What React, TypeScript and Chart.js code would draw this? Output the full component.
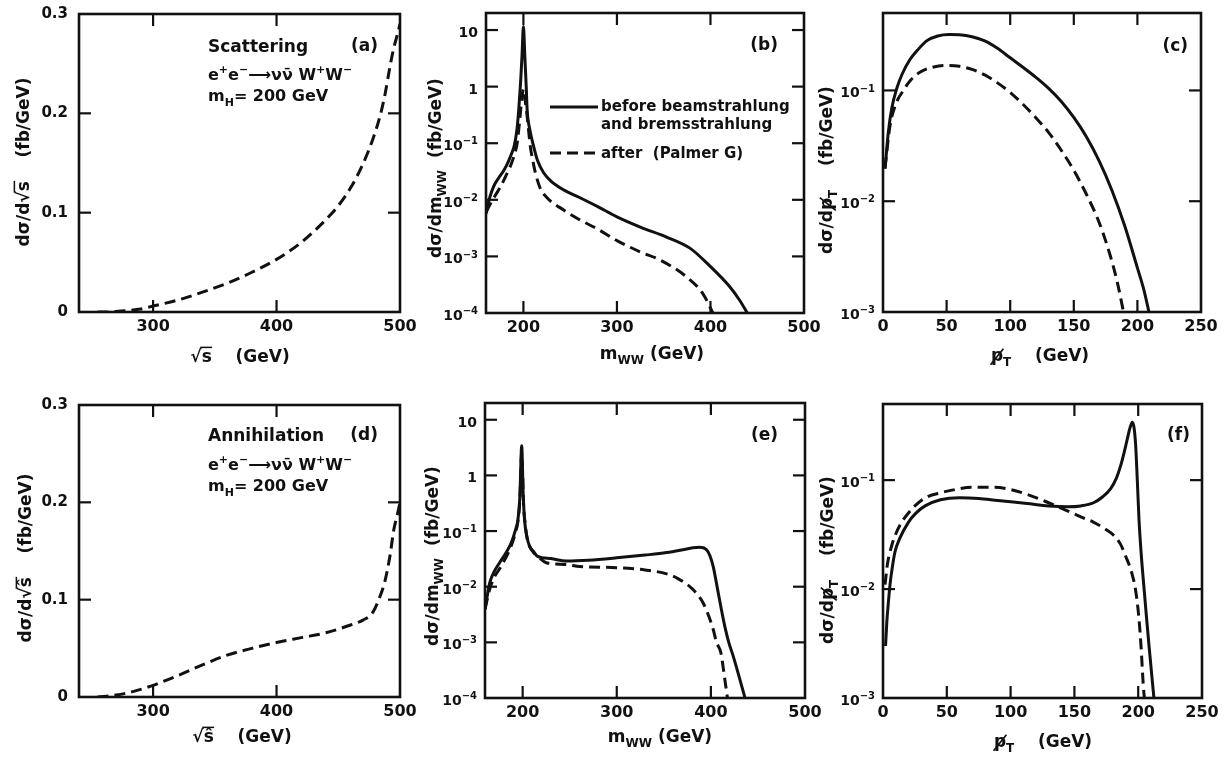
import React, { useEffect, useRef } from 'react';
import { Chart, registerables } from 'chart.js';

Chart.register(...registerables);

// ---------------- DATA ----------------
// (a) Scattering, dσ/d√s (fb/GeV)
const aSqrtS = [255, 262, 270, 280, 290, 300, 320, 340, 360, 380, 400, 420, 440, 450, 460, 470, 478, 484, 488, 492, 495, 498, 500];
const aDsig = [0, 0, 0.0005, 0.0015, 0.003, 0.006, 0.012, 0.02, 0.029, 0.04, 0.053, 0.07, 0.093, 0.107, 0.125, 0.149, 0.174, 0.198, 0.22, 0.248, 0.266, 0.28, 0.29];

// (d) Annihilation, dσ/d√ŝ (fb/GeV)
const dSqrtS = [255, 270, 285, 300, 320, 340, 360, 380, 400, 420, 440, 460, 470, 478, 484, 488, 492, 495, 498, 500];
const dDsig = [0, 0.002, 0.006, 0.012, 0.022, 0.033, 0.043, 0.05, 0.056, 0.061, 0.066, 0.074, 0.079, 0.087, 0.104, 0.12, 0.146, 0.172, 0.188, 0.2];

// (b) Scattering, dσ/dm_WW
const bMwwBefore = [160, 164, 168, 174, 179, 184, 188, 190, 193, 195, 197, 198.5, 200, 201.5, 203, 204, 207, 211, 215, 221.6, 230, 243, 260, 280, 300, 325, 353, 378, 400, 420, 431, 441];
const bDsigBefore = [0.0057, 0.011, 0.017, 0.025, 0.033, 0.048, 0.07, 0.087, 0.17, 0.39, 1.2, 3.5, 11.5, 3.5, 1.0, 0.39, 0.17, 0.087, 0.05, 0.03, 0.021, 0.015, 0.011, 0.0075, 0.005, 0.0033, 0.0022, 0.0014, 0.00066, 0.0003, 0.00017, 0.00009];
const bMwwAfter = [160, 165, 170, 175.5, 181, 186, 190, 193.3, 196, 198, 200, 202, 204, 207.4, 210, 212.8, 218, 225, 243, 260.6, 280, 300, 325, 345.7, 374, 391.8, 404];
const bDsigAfter = [0.006, 0.0087, 0.012, 0.017, 0.026, 0.039, 0.06, 0.1, 0.25, 0.55, 0.9, 0.55, 0.3, 0.087, 0.05, 0.03, 0.016, 0.011, 0.0066, 0.0044, 0.003, 0.0019, 0.0012, 0.00087, 0.00044, 0.00022, 0.00009];

// (e) Annihilation, dσ/dm_WW
const eMwwBefore = [160, 165, 170, 175.5, 182, 188, 192, 195, 197, 199, 200.5, 202, 204.5, 207.4, 212, 216, 230, 246.5, 270, 300, 330, 353, 370, 381, 388, 395, 399, 402.5, 405, 407.8, 411, 414.9, 419, 423.8, 431, 437];
const eDsigBefore = [0.0039, 0.0117, 0.019, 0.027, 0.04, 0.062, 0.1, 0.16, 0.4, 3.4, 0.5, 0.16, 0.08, 0.053, 0.042, 0.035, 0.032, 0.029, 0.03, 0.033, 0.037, 0.041, 0.046, 0.05, 0.051, 0.047, 0.036, 0.023, 0.014, 0.0078, 0.004, 0.0019, 0.001, 0.00056, 0.00021, 0.00009];
const eMwwAfter = [160, 165, 170, 175.5, 182, 188, 192, 195, 197, 199, 201, 203, 205, 210, 218, 225, 246.5, 260.6, 300, 330, 353, 365, 377.7, 385, 391.8, 397, 402.5, 406, 410.6, 414.9, 418];
const eDsigAfter = [0.004, 0.009, 0.015, 0.021, 0.033, 0.055, 0.09, 0.15, 0.35, 2.5, 0.3, 0.12, 0.07, 0.045, 0.033, 0.027, 0.025, 0.023, 0.022, 0.02, 0.017, 0.014, 0.01, 0.0075, 0.0051, 0.0032, 0.0017, 0.001, 0.00065, 0.00021, 0.00009];

// (c) Scattering, dσ/dp̸T
const cPtBefore = [1.6, 4.2, 7, 10.8, 15, 21.2, 27, 34.3, 43, 52, 60, 70, 80, 90, 100, 110, 120, 130, 140, 150, 160, 170, 180, 190, 200, 205, 209.5];
const cDsigBefore = [0.0196, 0.042, 0.07, 0.104, 0.14, 0.19, 0.23, 0.28, 0.31, 0.32, 0.318, 0.305, 0.28, 0.24, 0.197, 0.162, 0.132, 0.105, 0.08, 0.057, 0.038, 0.023, 0.0125, 0.006, 0.0025, 0.0016, 0.00095];
const cPtAfter = [1.6, 5.5, 10, 16, 22, 30, 40, 50, 60, 70, 80, 90, 100, 110, 120, 130, 140, 150, 160, 170, 178.4, 184, 189.5];
const cDsigAfter = [0.02, 0.048, 0.075, 0.1, 0.125, 0.148, 0.163, 0.168, 0.165, 0.155, 0.138, 0.117, 0.096, 0.075, 0.057, 0.042, 0.029, 0.019, 0.0115, 0.0064, 0.0033, 0.0019, 0.00095];

// (f) Annihilation, dσ/dp̸T
const fPtBefore = [2, 3, 4.2, 5.5, 7, 9.4, 13, 19.9, 26, 33, 45, 60, 75, 90, 112.9, 130, 145, 155, 165, 172, 178.3, 183, 186.2, 189, 191.5, 193.5, 195.4, 196.8, 198, 199.3, 200.6, 202.5, 204.5, 206.5, 208.5, 212.5];
const fDsigBefore = [0.003, 0.005, 0.0075, 0.011, 0.015, 0.022, 0.029, 0.041, 0.05, 0.058, 0.066, 0.069, 0.068, 0.065, 0.061, 0.058, 0.057, 0.058, 0.062, 0.07, 0.083, 0.105, 0.135, 0.18, 0.24, 0.3, 0.34, 0.3, 0.21, 0.1, 0.044, 0.02, 0.0104, 0.0055, 0.003, 0.00095];
const fPtAfter = [1.6, 3.5, 6.8, 10, 14.6, 20, 25, 34.3, 46, 56.6, 70, 86.7, 100, 112.9, 127, 141.7, 155, 165.2, 175, 181, 186, 190.2, 195, 198, 200.5, 202.2, 204, 205];
const fDsigAfter = [0.011, 0.017, 0.025, 0.032, 0.041, 0.05, 0.058, 0.07, 0.077, 0.082, 0.086, 0.086, 0.082, 0.074, 0.064, 0.054, 0.046, 0.041, 0.035, 0.031, 0.026, 0.02, 0.014, 0.0097, 0.0055, 0.003, 0.0013, 0.00095];

// Axis ticks
const sqrtSTicks = [300, 400, 500];
const sqrtSTickLabels = ['300', '400', '500'];
const linYTicks = [0, 0.1, 0.2, 0.3];
const linYTickLabels = ['0', '0.1', '0.2', '0.3'];
const mwwTicks = [200, 300, 400, 500];
const mwwTickLabels = ['200', '300', '400', '500'];
const mwwYTicks = [1e-4, 1e-3, 1e-2, 1e-1, 1, 10];
const mwwYTickLabels = ['10⁻⁴', '10⁻³', '10⁻²', '10⁻¹', '1', '10'];
const ptTicks = [0, 50, 100, 150, 200, 250];
const ptTickLabels = ['0', '50', '100', '150', '200', '250'];
const ptYTicks = [1e-3, 1e-2, 1e-1];
const ptYTickLabels = ['10⁻³', '10⁻²', '10⁻¹'];

// ---------------- DRAWING HELPERS ----------------
const DV = "'DejaVu Sans', 'Liberation Sans', sans-serif";
const INK = '#111';

type Seg = { t: string; sub?: boolean; sup?: boolean; over?: boolean; slash?: boolean };

function segFont(size: number, s: Seg) {
  const sz = s.sub || s.sup ? Math.round(size * 0.7) : size;
  return `bold ${sz}px ${DV}`;
}

function measureRich(ctx: CanvasRenderingContext2D, segs: Seg[], size: number) {
  let w = 0;
  for (const s of segs) {
    ctx.font = segFont(size, s);
    w += ctx.measureText(s.t).width;
  }
  return w;
}

function drawRich(ctx: CanvasRenderingContext2D, segs: Seg[], x: number, y: number, size: number, align: 'left' | 'center' | 'right' = 'left', angle = 0) {
  ctx.save();
  ctx.translate(x, y);
  if (angle) ctx.rotate(angle);
  const w = measureRich(ctx, segs, size);
  let cx = align === 'center' ? -w / 2 : align === 'right' ? -w : 0;
  ctx.fillStyle = INK;
  ctx.strokeStyle = INK;
  ctx.textAlign = 'left';
  ctx.textBaseline = 'alphabetic';
  for (const s of segs) {
    ctx.font = segFont(size, s);
    const dy = s.sub ? size * 0.3 : s.sup ? -size * 0.42 : 0;
    ctx.fillText(s.t, cx, dy);
    const sw = ctx.measureText(s.t).width;
    if (s.over) {
      ctx.lineWidth = size * 0.09;
      ctx.beginPath();
      ctx.moveTo(cx - size * 0.08, -size * 0.86);
      ctx.lineTo(cx + sw + size * 0.02, -size * 0.86);
      ctx.stroke();
    }
    if (s.slash) {
      ctx.lineWidth = size * 0.1;
      ctx.beginPath();
      ctx.moveTo(cx - size * 0.02, dy + size * 0.22);
      ctx.lineTo(cx + sw + size * 0.02, dy - size * 0.72);
      ctx.stroke();
    }
    cx += sw;
  }
  ctx.restore();
}

const SUP_MAP: Record<string, string> = { '⁻': '−', '⁰': '0', '¹': '1', '²': '2', '³': '3', '⁴': '4', '⁵': '5', '⁶': '6', '⁷': '7', '⁸': '8', '⁹': '9' };

function labelSegs(label: string): Seg[] {
  let base = '';
  let sup = '';
  for (const ch of label) {
    if (SUP_MAP[ch] !== undefined) sup += SUP_MAP[ch];
    else base += ch;
  }
  const segs: Seg[] = [{ t: base }];
  if (sup) segs.push({ t: sup, sup: true });
  return segs;
}

type Series = { x: number[]; y: number[]; dashed: boolean };
type TextItem = { segs: Seg[]; x: number; y: number; size: number; align?: 'left' | 'center' | 'right' };
type Panel = {
  key: string;
  box: { l: number; r: number; t: number; b: number };
  canvas: { x: number; y: number; w: number; h: number };
  xMin: number; xMax: number; xTicks: number[]; xLabels: string[];
  yLog: boolean; yMin: number; yMax: number; yTicks: number[]; yLabels: string[];
  series: Series[];
  xTitle: Seg[]; xTitleX: number; xTitleY: number;
  yTitle: Seg[]; yTitleX: number; yTitleY: number;
  texts: TextItem[];
  legend?: boolean;
};

const TICK_LEN = 12;

function decorPlugin(p: Panel) {
  return {
    id: 'decor_' + p.key,
    afterDraw(chart: any) {
      const ctx: CanvasRenderingContext2D = chart.ctx;
      const a = chart.chartArea;
      const xs = chart.scales.x;
      const ys = chart.scales.y;
      const ox = p.canvas.x;
      const oy = p.canvas.y;
      ctx.save();
      ctx.strokeStyle = INK;
      ctx.lineWidth = 2.6;
      ctx.setLineDash([]);
      ctx.strokeRect(a.left, a.top, a.right - a.left, a.bottom - a.top);
      ctx.lineWidth = 2.2;
      const seg = (x1: number, y1: number, x2: number, y2: number) => {
        ctx.beginPath();
        ctx.moveTo(x1, y1);
        ctx.lineTo(x2, y2);
        ctx.stroke();
      };
      for (const v of p.xTicks) {
        if (v <= p.xMin || v >= p.xMax) continue;
        const px = xs.getPixelForValue(v);
        seg(px, a.bottom, px, a.bottom - TICK_LEN);
        seg(px, a.top, px, a.top + TICK_LEN);
      }
      for (const v of p.yTicks) {
        if (v <= p.yMin || v >= p.yMax) continue;
        const py = ys.getPixelForValue(v);
        seg(a.left, py, a.left + TICK_LEN, py);
        seg(a.right, py, a.right - TICK_LEN, py);
      }
      // log-axis tick labels with real superscripts
      if (p.yLog) {
        p.yTicks.forEach((v, i) => {
          const py = ys.getPixelForValue(v);
          drawRich(ctx, labelSegs(p.yLabels[i]), a.left - 8, py + 7, 14, 'right');
        });
      }
      // axis titles
      drawRich(ctx, p.xTitle, p.xTitleX - ox, p.xTitleY - oy, 17, 'center');
      drawRich(ctx, p.yTitle, p.yTitleX - ox, p.yTitleY - oy, 17, 'center', -Math.PI / 2);
      // annotations
      for (const t of p.texts) drawRich(ctx, t.segs, t.x - ox, t.y - oy, t.size, t.align || 'left');
      if (p.legend) {
        ctx.lineWidth = 3;
        ctx.setLineDash([]);
        seg(550 - ox, 107 - oy, 598 - ox, 107 - oy);
        ctx.setLineDash([11, 6]);
        seg(550 - ox, 153 - oy, 598 - ox, 153 - oy);
        ctx.setLineDash([]);
        drawRich(ctx, [{ t: 'before beamstrahlung' }], 601 - ox, 111 - oy, 15);
        drawRich(ctx, [{ t: 'and bremsstrahlung' }], 601 - ox, 129 - oy, 15);
        drawRich(ctx, [{ t: 'after  (Palmer G)' }], 601 - ox, 158 - oy, 15);
      }
      ctx.restore();
    },
  };
}

function buildConfig(p: Panel): any {
  const ox = p.canvas.x;
  const oy = p.canvas.y;
  return {
    type: 'line',
    data: {
      datasets: p.series.map((s) => ({
        data: s.x.map((x, i) => ({ x, y: s.y[i] })),
        borderColor: INK,
        borderWidth: 3,
        borderDash: s.dashed ? [11, 6] : [],
        borderJoinStyle: 'round',
        pointRadius: 0,
        fill: false,
        cubicInterpolationMode: 'monotone',
      })),
    },
    options: {
      responsive: false,
      animation: false,
      devicePixelRatio: 1,
      events: [],
      layout: { padding: { left: 0, bottom: 0, top: p.box.t - oy, right: ox + p.canvas.w - p.box.r } },
      plugins: { legend: { display: false }, tooltip: { enabled: false }, title: { display: false } },
      scales: {
        x: {
          type: 'linear',
          min: p.xMin,
          max: p.xMax,
          grid: { display: false, drawTicks: false },
          border: { display: false },
          ticks: {
            color: INK,
            font: { family: DV, size: 16, weight: 'bold' },
            padding: 5,
            maxRotation: 0,
            autoSkip: false,
            callback: (_v: number, i: number) => p.xLabels[i],
          },
          afterBuildTicks: (s: any) => {
            s.ticks = p.xTicks.map((v) => ({ value: v }));
          },
          afterFit: (s: any) => {
            s.height = oy + p.canvas.h - p.box.b;
            s.paddingLeft = 0;
            s.paddingRight = 0;
          },
        },
        y: {
          type: p.yLog ? 'logarithmic' : 'linear',
          min: p.yMin,
          max: p.yMax,
          grid: { display: false, drawTicks: false },
          border: { display: false },
          ticks: {
            display: !p.yLog,
            color: INK,
            font: { family: DV, size: 15, weight: 'bold' },
            padding: 11,
            autoSkip: false,
            callback: (_v: number, i: number) => p.yLabels[i],
          },
          afterBuildTicks: (s: any) => {
            s.ticks = p.yTicks.map((v) => ({ value: v }));
          },
          afterFit: (s: any) => {
            s.width = p.box.l - ox;
            s.paddingTop = 0;
            s.paddingBottom = 0;
          },
        },
      },
    },
    plugins: [decorPlugin(p)],
  };
}

const reaction: Seg[] = [
  { t: 'e' }, { t: '+', sup: true }, { t: 'e' }, { t: '−', sup: true }, { t: '⟶' }, { t: 'νν̄ W' }, { t: '+', sup: true }, { t: 'W' }, { t: '−', sup: true },
];
const massH: Seg[] = [{ t: 'm' }, { t: 'H', sub: true }, { t: '= 200 GeV' }];

const sqrtSTitle: Seg[] = [{ t: '√' }, { t: 's', over: true }, { t: '    (GeV)' }];
const sqrtSHatTitle: Seg[] = [{ t: '√' }, { t: 'ŝ', over: true }, { t: '    (GeV)' }];
const mwwTitle: Seg[] = [{ t: 'm' }, { t: 'WW', sub: true }, { t: ' (GeV)' }];
const ptTitle: Seg[] = [{ t: 'p', slash: true }, { t: 'T', sub: true }, { t: '    (GeV)' }];
const yTitleS: Seg[] = [{ t: 'dσ/d√' }, { t: 's', over: true }, { t: '    (fb/GeV)' }];
const yTitleSHat: Seg[] = [{ t: 'dσ/d√' }, { t: 'ŝ', over: true }, { t: '    (fb/GeV)' }];
const yTitleMww: Seg[] = [{ t: 'dσ/dm' }, { t: 'WW', sub: true }, { t: '  (fb/GeV)' }];
const yTitlePt: Seg[] = [{ t: 'dσ/d' }, { t: 'p', slash: true }, { t: 'T', sub: true }, { t: '    (fb/GeV)' }];

const panels: Panel[] = [
  {
    key: 'a',
    box: { l: 79, r: 400, t: 14, b: 312 },
    canvas: { x: 0, y: 0, w: 430, h: 380 },
    xMin: 240, xMax: 500, xTicks: sqrtSTicks, xLabels: sqrtSTickLabels,
    yLog: false, yMin: 0, yMax: 0.3, yTicks: linYTicks, yLabels: linYTickLabels,
    series: [{ x: aSqrtS, y: aDsig, dashed: true }],
    xTitle: sqrtSTitle, xTitleX: 240, xTitleY: 362,
    yTitle: yTitleS, yTitleX: 29, yTitleY: 162,
    texts: [
      { segs: [{ t: 'Scattering' }], x: 208, y: 52, size: 17 },
      { segs: [{ t: '(a)' }], x: 378, y: 51, size: 17, align: 'right' },
      { segs: reaction, x: 208, y: 80, size: 16 },
      { segs: massH, x: 208, y: 101, size: 16 },
    ],
  },
  {
    key: 'b',
    box: { l: 486, r: 804, t: 13, b: 313 },
    canvas: { x: 405, y: 0, w: 425, h: 380 },
    xMin: 160, xMax: 500, xTicks: mwwTicks, xLabels: mwwTickLabels,
    yLog: true, yMin: 1e-4, yMax: 20, yTicks: mwwYTicks, yLabels: mwwYTickLabels,
    series: [
      { x: bMwwBefore, y: bDsigBefore, dashed: false },
      { x: bMwwAfter, y: bDsigAfter, dashed: true },
    ],
    xTitle: mwwTitle, xTitleX: 652, xTitleY: 359,
    yTitle: yTitleMww, yTitleX: 441, yTitleY: 168,
    texts: [{ segs: [{ t: '(b)' }], x: 778, y: 50, size: 17, align: 'right' }],
    legend: true,
  },
  {
    key: 'c',
    box: { l: 883, r: 1201, t: 13, b: 312 },
    canvas: { x: 810, y: 0, w: 415, h: 380 },
    xMin: 0, xMax: 250, xTicks: ptTicks, xLabels: ptTickLabels,
    yLog: true, yMin: 1e-3, yMax: 0.5, yTicks: ptYTicks, yLabels: ptYTickLabels,
    series: [
      { x: cPtBefore, y: cDsigBefore, dashed: false },
      { x: cPtAfter, y: cDsigAfter, dashed: true },
    ],
    xTitle: ptTitle, xTitleX: 1040, xTitleY: 361,
    yTitle: yTitlePt, yTitleX: 832, yTitleY: 170,
    texts: [{ segs: [{ t: '(c)' }], x: 1188, y: 51, size: 17, align: 'right' }],
  },
  {
    key: 'd',
    box: { l: 79, r: 400, t: 405, b: 697 },
    canvas: { x: 0, y: 380, w: 430, h: 377 },
    xMin: 240, xMax: 500, xTicks: sqrtSTicks, xLabels: sqrtSTickLabels,
    yLog: false, yMin: 0, yMax: 0.3, yTicks: linYTicks, yLabels: linYTickLabels,
    series: [{ x: dSqrtS, y: dDsig, dashed: true }],
    xTitle: sqrtSHatTitle, xTitleX: 242, xTitleY: 742,
    yTitle: yTitleSHat, yTitleX: 31, yTitleY: 558,
    texts: [
      { segs: [{ t: 'Annihilation' }], x: 208, y: 441, size: 17 },
      { segs: [{ t: '(d)' }], x: 378, y: 440, size: 17, align: 'right' },
      { segs: reaction, x: 208, y: 470, size: 16 },
      { segs: massH, x: 208, y: 491, size: 16 },
    ],
  },
  {
    key: 'e',
    box: { l: 485, r: 805, t: 403, b: 698 },
    canvas: { x: 405, y: 380, w: 425, h: 377 },
    xMin: 160, xMax: 500, xTicks: mwwTicks, xLabels: mwwTickLabels,
    yLog: true, yMin: 1e-4, yMax: 20, yTicks: mwwYTicks, yLabels: mwwYTickLabels,
    series: [
      { x: eMwwBefore, y: eDsigBefore, dashed: false },
      { x: eMwwAfter, y: eDsigAfter, dashed: true },
    ],
    xTitle: mwwTitle, xTitleX: 660, xTitleY: 742,
    yTitle: yTitleMww, yTitleX: 438, yTitleY: 556,
    texts: [{ segs: [{ t: '(e)' }], x: 778, y: 440, size: 17, align: 'right' }],
  },
  {
    key: 'f',
    box: { l: 883, r: 1202, t: 404, b: 698 },
    canvas: { x: 810, y: 380, w: 415, h: 377 },
    xMin: 0, xMax: 250, xTicks: ptTicks, xLabels: ptTickLabels,
    yLog: true, yMin: 1e-3, yMax: 0.5, yTicks: ptYTicks, yLabels: ptYTickLabels,
    series: [
      { x: fPtBefore, y: fDsigBefore, dashed: false },
      { x: fPtAfter, y: fDsigAfter, dashed: true },
    ],
    xTitle: ptTitle, xTitleX: 1043, xTitleY: 747,
    yTitle: yTitlePt, yTitleX: 833, yTitleY: 560,
    texts: [{ segs: [{ t: '(f)' }], x: 1190, y: 440, size: 17, align: 'right' }],
  },
];

function PanelChart({ p }: { p: Panel }) {
  const ref = useRef<HTMLCanvasElement>(null);
  useEffect(() => {
    const c = ref.current;
    if (!c) return;
    const chart = new Chart(c, buildConfig(p));
    return () => chart.destroy();
  }, [p]);
  return (
    <canvas
      ref={ref}
      width={p.canvas.w}
      height={p.canvas.h}
      style={{ position: 'absolute', left: p.canvas.x, top: p.canvas.y, width: p.canvas.w, height: p.canvas.h }}
    />
  );
}

export default function App() {
  return (
    <div style={{ position: 'absolute', left: 0, top: 0, width: 1225, height: 757, background: '#fff', overflow: 'hidden' }}>
      {panels.map((p) => (
        <PanelChart key={p.key} p={p} />
      ))}
    </div>
  );
}
